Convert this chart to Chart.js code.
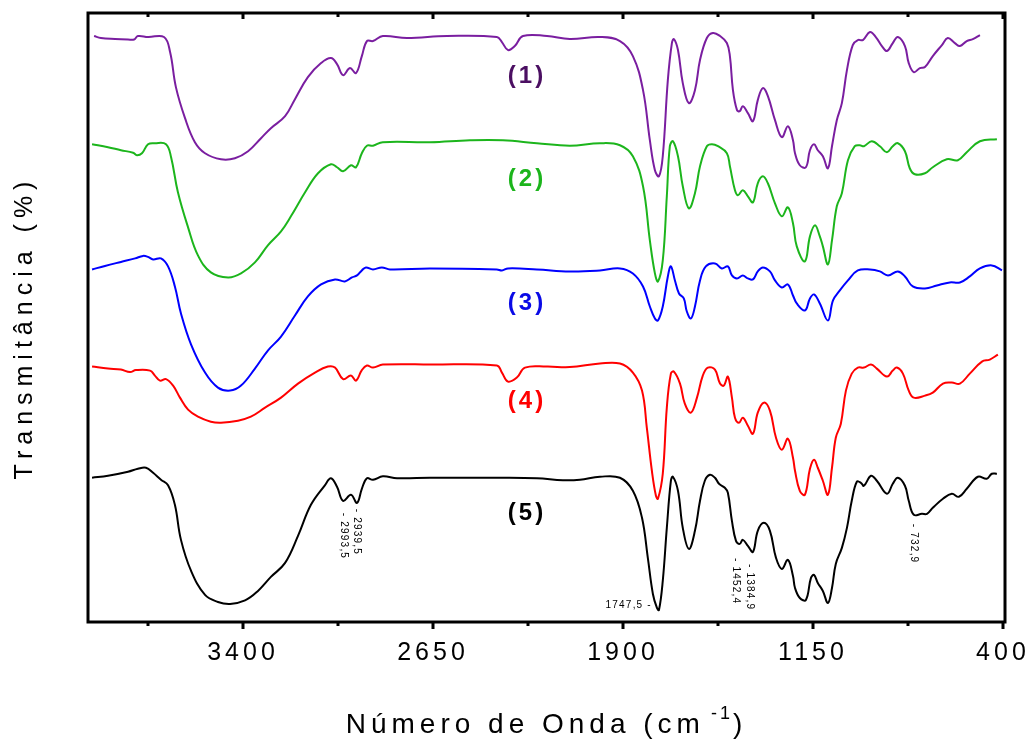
<!DOCTYPE html>
<html>
<head>
<meta charset="utf-8">
<script src="https://cdn.jsdelivr.net/npm/chart.js@4.4.1/dist/chart.umd.min.js"></script>
<style>
  html, body { margin: 0; padding: 0; background: #ffffff; }
  #c { display: block; }
</style>
</head>
<body>
<canvas id="c" width="1030" height="740"></canvas>
<script>
// ---- Data: wavenumber (cm-1) and relative transmittance (offset spectra, arbitrary units) ----
const wn1 = [3988,3961,3905,3854,3830,3815,3775,3712,3688,3665,3629,3590,3550,3487,3432,3380,3329,3290,3234,3195,3144,3092,3053,3029,3005,2978,2954,2931,2911,2887,2848,2753,2595,2398,2378,2354,2327,2295,2200,2110,1991,1912,1861,1821,1794,1774,1758,1743,1723,1707,1699,1683,1664,1640,1616,1596,1569,1545,1517,1490,1478,1466,1450,1439,1427,1407,1387,1368,1348,1328,1300,1273,1249,1229,1221,1202,1178,1162,1146,1131,1111,1091,1075,1056,1036,1016,993,973,953,925,902,878,858,835,815,787,772,752,728,708,677,641,618,590,570,543,519,491];
const t1  = [585,583,582,581.5,581.5,585,584,584,569,534,503,479,468,462,463,470,483,493,505,522,544,558,563,557,546,553,548,565,580,580,585,583,585,584,579,571,575,585,585,582,584,580,565,531,481,451,445,465,541,578,582,571,538,518,531,561,583,588,585,578,565,531,511,510,515,508,500,521,533,525,501,484,495,481,468,456,454,471,477,471,465,453,475,501,518,551,576,581,581,589,584,575,570,578,584,575,558,549,553,554,565,576,583,578,575,580,582,586];

const wn2 = [3996,3933,3882,3834,3819,3799,3775,3748,3704,3684,3657,3617,3578,3527,3459,3408,3353,3302,3250,3211,3155,3104,3053,3029,3005,2974,2954,2931,2911,2887,2848,2662,2504,2374,2240,2110,1991,1912,1861,1821,1794,1774,1762,1743,1727,1715,1703,1683,1664,1640,1616,1596,1569,1549,1525,1490,1478,1458,1446,1427,1407,1387,1368,1348,1328,1300,1273,1249,1229,1214,1182,1162,1142,1123,1111,1091,1075,1056,1036,1012,985,965,949,918,886,858,835,815,787,768,748,708,677,622,578,543,491,424];
const t2  = [477,474,471,468.5,466,468,477,478,477,464,429,394,366,349,344,348,359,376,390,405,429,448,457,454,450,456,454,468,475.5,475.5,479,479,481,481,478,475.5,478,476,465,435,381,348,340,361,425,475,480,465,435,413,428,455,475,477,475,468,455,431,426,431,425,419,438,445,438,418,405,414,398,375,360,385,396,385,375,357,381,415,428,461,475,476,475,480,475,469,475,478,470,453,447,448,454,462,461,469,480,482];

const wn3 = [3996,3945,3882,3826,3795,3775,3755,3724,3696,3669,3645,3605,3550,3499,3451,3408,3353,3302,3250,3195,3144,3092,3037,2998,2970,2950,2931,2915,2887,2852,2820,2662,2398,2378,2354,2240,2110,1991,1912,1861,1821,1794,1774,1762,1743,1723,1711,1695,1679,1660,1648,1632,1616,1596,1573,1537,1510,1486,1470,1450,1427,1407,1387,1368,1348,1320,1300,1273,1249,1229,1214,1182,1162,1146,1123,1091,1071,1044,1012,973,925,886,854,815,787,756,708,661,610,570,531,491,444,404];
const t3  = [352,355.5,359.5,363,365.5,364.5,362,363,355,335,308,277,249,234,231,236,253,271,285,306,325,337,342,340,344,346,351,354,352,354,352,353,352,351,353,352,350,351,353,348,335,315,303,301,315,345,355,341,328,323,310,303,315,341,355,358,353,355,346,343,346,343,342,350,354,350,341,334,337,326,318,311,323,327,318,301,321,331,341,351,352,350,346,350,345,335,333,336,339,339,345,353,356,351];

const wn4 = [3996,3933,3882,3846,3823,3767,3748,3728,3704,3676,3649,3617,3578,3527,3487,3420,3369,3313,3250,3183,3116,3065,3037,3005,2974,2954,2931,2911,2887,2848,2662,2398,2378,2354,2319,2287,2200,2110,1991,1912,1861,1825,1806,1786,1770,1762,1743,1727,1711,1699,1675,1656,1632,1608,1585,1565,1537,1517,1502,1486,1470,1458,1442,1427,1407,1387,1368,1344,1320,1296,1273,1249,1229,1221,1202,1182,1162,1146,1131,1111,1091,1075,1060,1040,1020,997,973,949,921,898,858,835,819,795,772,752,708,677,637,602,570,531,483,452,420];
const t4  = [255,253,252,249.5,251.5,251,246,241,242.5,236,224,212,205,200,199,201,205,214,224,238,249,255,254,242.5,246,241,251.5,256,254,257,257,256,249,240,244,254,255,254.5,258,258,249,231,194,151,126,123,148,214,248,250,238,218,209,224,246,254,252,238,236,245,224,204,199,204,196,188,209,219,211,184,172,183,164,151,131,127,153,162,154,141,127,154,184,198,231,248,254,254,257,253,245,251,254,248,231,224,226,229,238,239,238,248,260,262,267];

const wn5 = [3996,3933,3854,3815,3783,3755,3724,3696,3669,3645,3605,3550,3499,3451,3392,3341,3290,3234,3183,3132,3077,3053,3029,3005,2974,2950,2931,2911,2887,2848,2792,2662,2504,2398,2240,2137,2070,1991,1912,1861,1825,1802,1782,1766,1758,1743,1727,1711,1703,1683,1664,1640,1616,1596,1577,1557,1537,1521,1498,1486,1470,1454,1439,1427,1407,1387,1368,1344,1320,1296,1273,1249,1229,1221,1202,1178,1158,1146,1131,1111,1091,1075,1060,1036,1016,997,977,961,949,921,898,858,835,815,787,772,752,720,700,677,637,602,574,543,499,464,444,424];
const t5  = [144,146,150,153,154,149,142,136.5,117,82,51,27,20,18,21.5,31,45,59,86,117,136.5,143.5,135,121,127,119,133,143.5,142,145.5,143.5,144,144,144,143.5,141.5,142,145,144,131,104,64,28,14,12,41,94,141,145,131,94,73,91,121,141,147,144,138,134,129,101,81,78,82,76,70,91,99,91,64,53,62,46,34,24,22,44,47,39,31,19,34,58,74,94,121,140,139,136,146,141,128,138,144,136,121,107,108,108,114,123,128,125,133,145,143,148,148];

const seriesNames  = ['(1)', '(2)', '(3)', '(4)', '(5)'];
const lineColors   = ['#7a1ea0', '#1cb51c', '#0000ff', '#ff0000', '#000000'];
const labelColors  = ['#4b0f62', '#1cb51c', '#0a0ae6', '#ff0000', '#000000'];
// where the series names sit (wavenumber, transmittance units)
const nameWn = [2287, 2287, 2287, 2287, 2287];
const nameT  = [545, 442, 318, 220, 108];

const majorTicks = [3400, 2650, 1900, 1150, 400];
const minorTicks = [3775, 3025, 2275, 1525, 775];

// peak annotations on spectrum (5)
const peakText = ['- 2993,5', '- 2939,5', '1747,5 -', '- 1452,4', '- 1384,9', '- 732,9'];
const peakWn   = [3001, 2950, 1786, 1454, 1399, 752];
const peakT    = [109, 113, 17, 64, 58, 98];
const peakVert = [true, true, false, true, true, true];

const FONT = "'Liberation Sans', Arial, Helvetica, sans-serif";

const allWn = [wn1, wn2, wn3, wn4, wn5];
const allT  = [t1, t2, t3, t4, t5];

const datasets = allWn.map((w, i) => ({
  label: seriesNames[i],
  data: w.map((x, k) => ({ x: x, y: allT[i][k] })),
  borderColor: lineColors[i],
  backgroundColor: lineColors[i],
  borderWidth: 2,
  pointRadius: 0,
  fill: false,
  tension: 0.4
}));

const decorPlugin = {
  id: 'decor',
  beforeDraw(chart) {
    chart.ctx.letterSpacing = '4px';
  },
  afterDraw(chart) {
    const ctx = chart.ctx;
    const a = chart.chartArea;
    const xs = chart.scales.x, ys = chart.scales.y;
    ctx.save();
    ctx.letterSpacing = '0px';
    // frame
    ctx.strokeStyle = '#000';
    ctx.lineWidth = 3;
    ctx.strokeRect(a.left, a.top, a.right - a.left, a.bottom - a.top);
    // ticks
    ctx.lineWidth = 3;
    ctx.beginPath();
    majorTicks.forEach(v => {
      const px = Math.round(xs.getPixelForValue(v));
      ctx.moveTo(px, a.bottom); ctx.lineTo(px, a.bottom + 7);
      ctx.moveTo(px, a.top); ctx.lineTo(px, a.top + 6);
    });
    minorTicks.forEach(v => {
      const px = Math.round(xs.getPixelForValue(v));
      ctx.moveTo(px, a.bottom); ctx.lineTo(px, a.bottom + 4);
      ctx.moveTo(px, a.top); ctx.lineTo(px, a.top + 4);
    });
    ctx.stroke();

    // series names
    ctx.font = 'bold 24px ' + FONT;
    ctx.letterSpacing = '3px';
    ctx.textAlign = 'center';
    ctx.textBaseline = 'middle';
    seriesNames.forEach((s, i) => {
      ctx.fillStyle = labelColors[i];
      ctx.fillText(s, xs.getPixelForValue(nameWn[i]) + 2, ys.getPixelForValue(nameT[i]));
    });

    // peak annotations
    ctx.font = '10px ' + FONT;
    ctx.letterSpacing = '1.2px';
    ctx.fillStyle = '#000';
    peakText.forEach((s, i) => {
      const px = xs.getPixelForValue(peakWn[i]);
      const py = ys.getPixelForValue(peakT[i]);
      ctx.save();
      if (peakVert[i]) {
        ctx.translate(px, py);
        ctx.rotate(Math.PI / 2);
        ctx.textAlign = 'left';
        ctx.textBaseline = 'middle';
        ctx.fillText(s, 0, 0);
      } else {
        ctx.textAlign = 'right';
        ctx.textBaseline = 'middle';
        ctx.fillText(s, px, py);
      }
      ctx.restore();
    });

    // y title
    ctx.save();
    ctx.font = '25px ' + FONT;
    ctx.letterSpacing = '6px';
    ctx.fillStyle = '#000';
    ctx.translate(32, (a.top + a.bottom) / 2 + 10);
    ctx.rotate(-Math.PI / 2);
    ctx.textAlign = 'center';
    ctx.textBaseline = 'alphabetic';
    ctx.fillText('Transmitância (%)', 0, 0);
    ctx.restore();

    // x title with superscript
    ctx.fillStyle = '#000';
    ctx.textAlign = 'left';
    ctx.textBaseline = 'alphabetic';
    const mainTxt = 'Número de Onda (cm';
    ctx.font = '28px ' + FONT;
    ctx.letterSpacing = '5px';
    const w1 = ctx.measureText(mainTxt).width;
    const w3 = ctx.measureText(')').width;
    ctx.font = '18px ' + FONT;
    ctx.letterSpacing = '3px';
    const w2 = ctx.measureText('-1').width;
    const total = w1 + 6 + w2 + w3;
    const cx = (a.left + a.right) / 2;
    let x0 = cx - total / 2;
    const base = 733;
    ctx.font = '28px ' + FONT;
    ctx.letterSpacing = '5px';
    ctx.fillText(mainTxt, x0, base);
    ctx.font = '18px ' + FONT;
    ctx.letterSpacing = '3px';
    ctx.fillText('-1', x0 + w1 + 6, base - 14);
    ctx.font = '28px ' + FONT;
    ctx.letterSpacing = '5px';
    ctx.fillText(')', x0 + w1 + 6 + w2, base);
    ctx.restore();
  }
};

new Chart(document.getElementById('c'), {
  type: 'line',
  data: { datasets: datasets },
  options: {
    responsive: false,
    animation: false,
    events: [],
    layout: { padding: { left: 88, right: 25, top: 13, bottom: 56 } },
    plugins: { legend: { display: false }, tooltip: { enabled: false } },
    scales: {
      x: {
        type: 'linear',
        reverse: true,
        min: 392,
        max: 4012,
        afterBuildTicks: (s) => { s.ticks = majorTicks.map(v => ({ value: v })); },
        afterFit: (s) => { s.paddingLeft = 0; s.paddingRight = 0; },
        grid: { display: false, drawTicks: false },
        border: { display: false },
        ticks: {
          callback: (v) => String(v),
          font: { family: FONT, size: 25 },
          color: '#000',
          padding: 16,
          maxRotation: 0,
          autoSkip: false
        }
      },
      y: {
        display: false,
        min: 0,
        max: 608
      }
    }
  },
  plugins: [decorPlugin]
});
</script>
</body>
</html>
